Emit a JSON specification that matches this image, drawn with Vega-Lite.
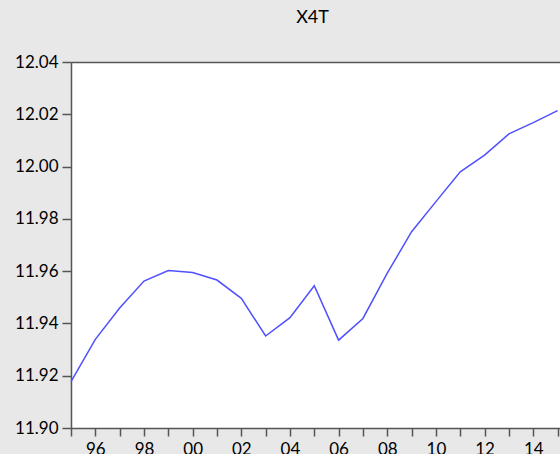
{
  "$schema": "https://vega.github.io/schema/vega-lite/v6.json",
  "width": 489,
  "height": 366,
  "autosize": "none",
  "padding": {"left": 71, "top": 62, "right": 0, "bottom": 26},
  "background": "#e8e8e8",
  "title": {"text": "X4T", "font": "Lato", "fontSize": 18, "fontWeight": "normal", "color": "#000000", "anchor": "middle", "offset": 26, "dx": -3},
  "data": {"values": [
    {"year": 1995, "value": 11.9177},
    {"year": 1996, "value": 11.9339},
    {"year": 1997, "value": 11.9459},
    {"year": 1998, "value": 11.9562},
    {"year": 1999, "value": 11.9602},
    {"year": 2000, "value": 11.9595},
    {"year": 2001, "value": 11.9566},
    {"year": 2002, "value": 11.9496},
    {"year": 2003, "value": 11.9352},
    {"year": 2004, "value": 11.9422},
    {"year": 2005, "value": 11.9544},
    {"year": 2006, "value": 11.9336},
    {"year": 2007, "value": 11.9419},
    {"year": 2008, "value": 11.9592},
    {"year": 2009, "value": 11.9751},
    {"year": 2010, "value": 11.9866},
    {"year": 2011, "value": 11.998},
    {"year": 2012, "value": 12.0044},
    {"year": 2013, "value": 12.0125},
    {"year": 2014, "value": 12.0168},
    {"year": 2015, "value": 12.0214}
  ]},
  "layer": [
    {
      "mark": {"type": "line", "color": "#5050ff", "strokeWidth": 1.5},
      "encoding": {
        "x": {"field": "year", "type": "quantitative",
          "scale": {"domain": [1995, 2015.1], "nice": false, "zero": false},
          "axis": {"orient": "bottom", "title": null,
            "values": [1995,1996,1997,1998,1999,2000,2001,2002,2003,2004,2005,2006,2007,2008,2009,2010,2011,2012,2013,2014,2015],
            "labelExpr": "datum.value % 2 == 0 ? slice(toString(datum.value), 2) : ''",
            "tickSize": 8, "labelPadding": 5, "labelFlush": false, "labelOverlap": false}},
        "y": {"field": "value", "type": "quantitative",
          "scale": {"domain": [11.9, 12.04], "nice": false, "zero": false},
          "axis": {"title": null, "values": [11.9, 11.92, 11.94, 11.96, 11.98, 12.0, 12.02, 12.04], "format": ".2f", "tickSize": 9, "labelPadding": 4, "labelFlush": false, "labelOverlap": false}}
      }
    },
    {
      "mark": {"type": "line", "opacity": 0},
      "encoding": {
        "x": {"field": "year", "type": "quantitative",
          "scale": {"domain": [1995, 2015.1], "nice": false, "zero": false},
          "axis": {"orient": "top", "title": null, "labels": false, "ticks": false}},
        "y": {"field": "value", "type": "quantitative"}
      }
    }
  ],
  "resolve": {"axis": {"x": "independent"}},
  "config": {
    "view": {"fill": "white", "stroke": null},
    "axis": {"grid": false, "domainColor": "#555555", "domainWidth": 1.5, "tickColor": "#555555", "tickWidth": 1.5, "labelFont": "Lato", "labelFontSize": 17, "labelColor": "#000000"}
  }
}
